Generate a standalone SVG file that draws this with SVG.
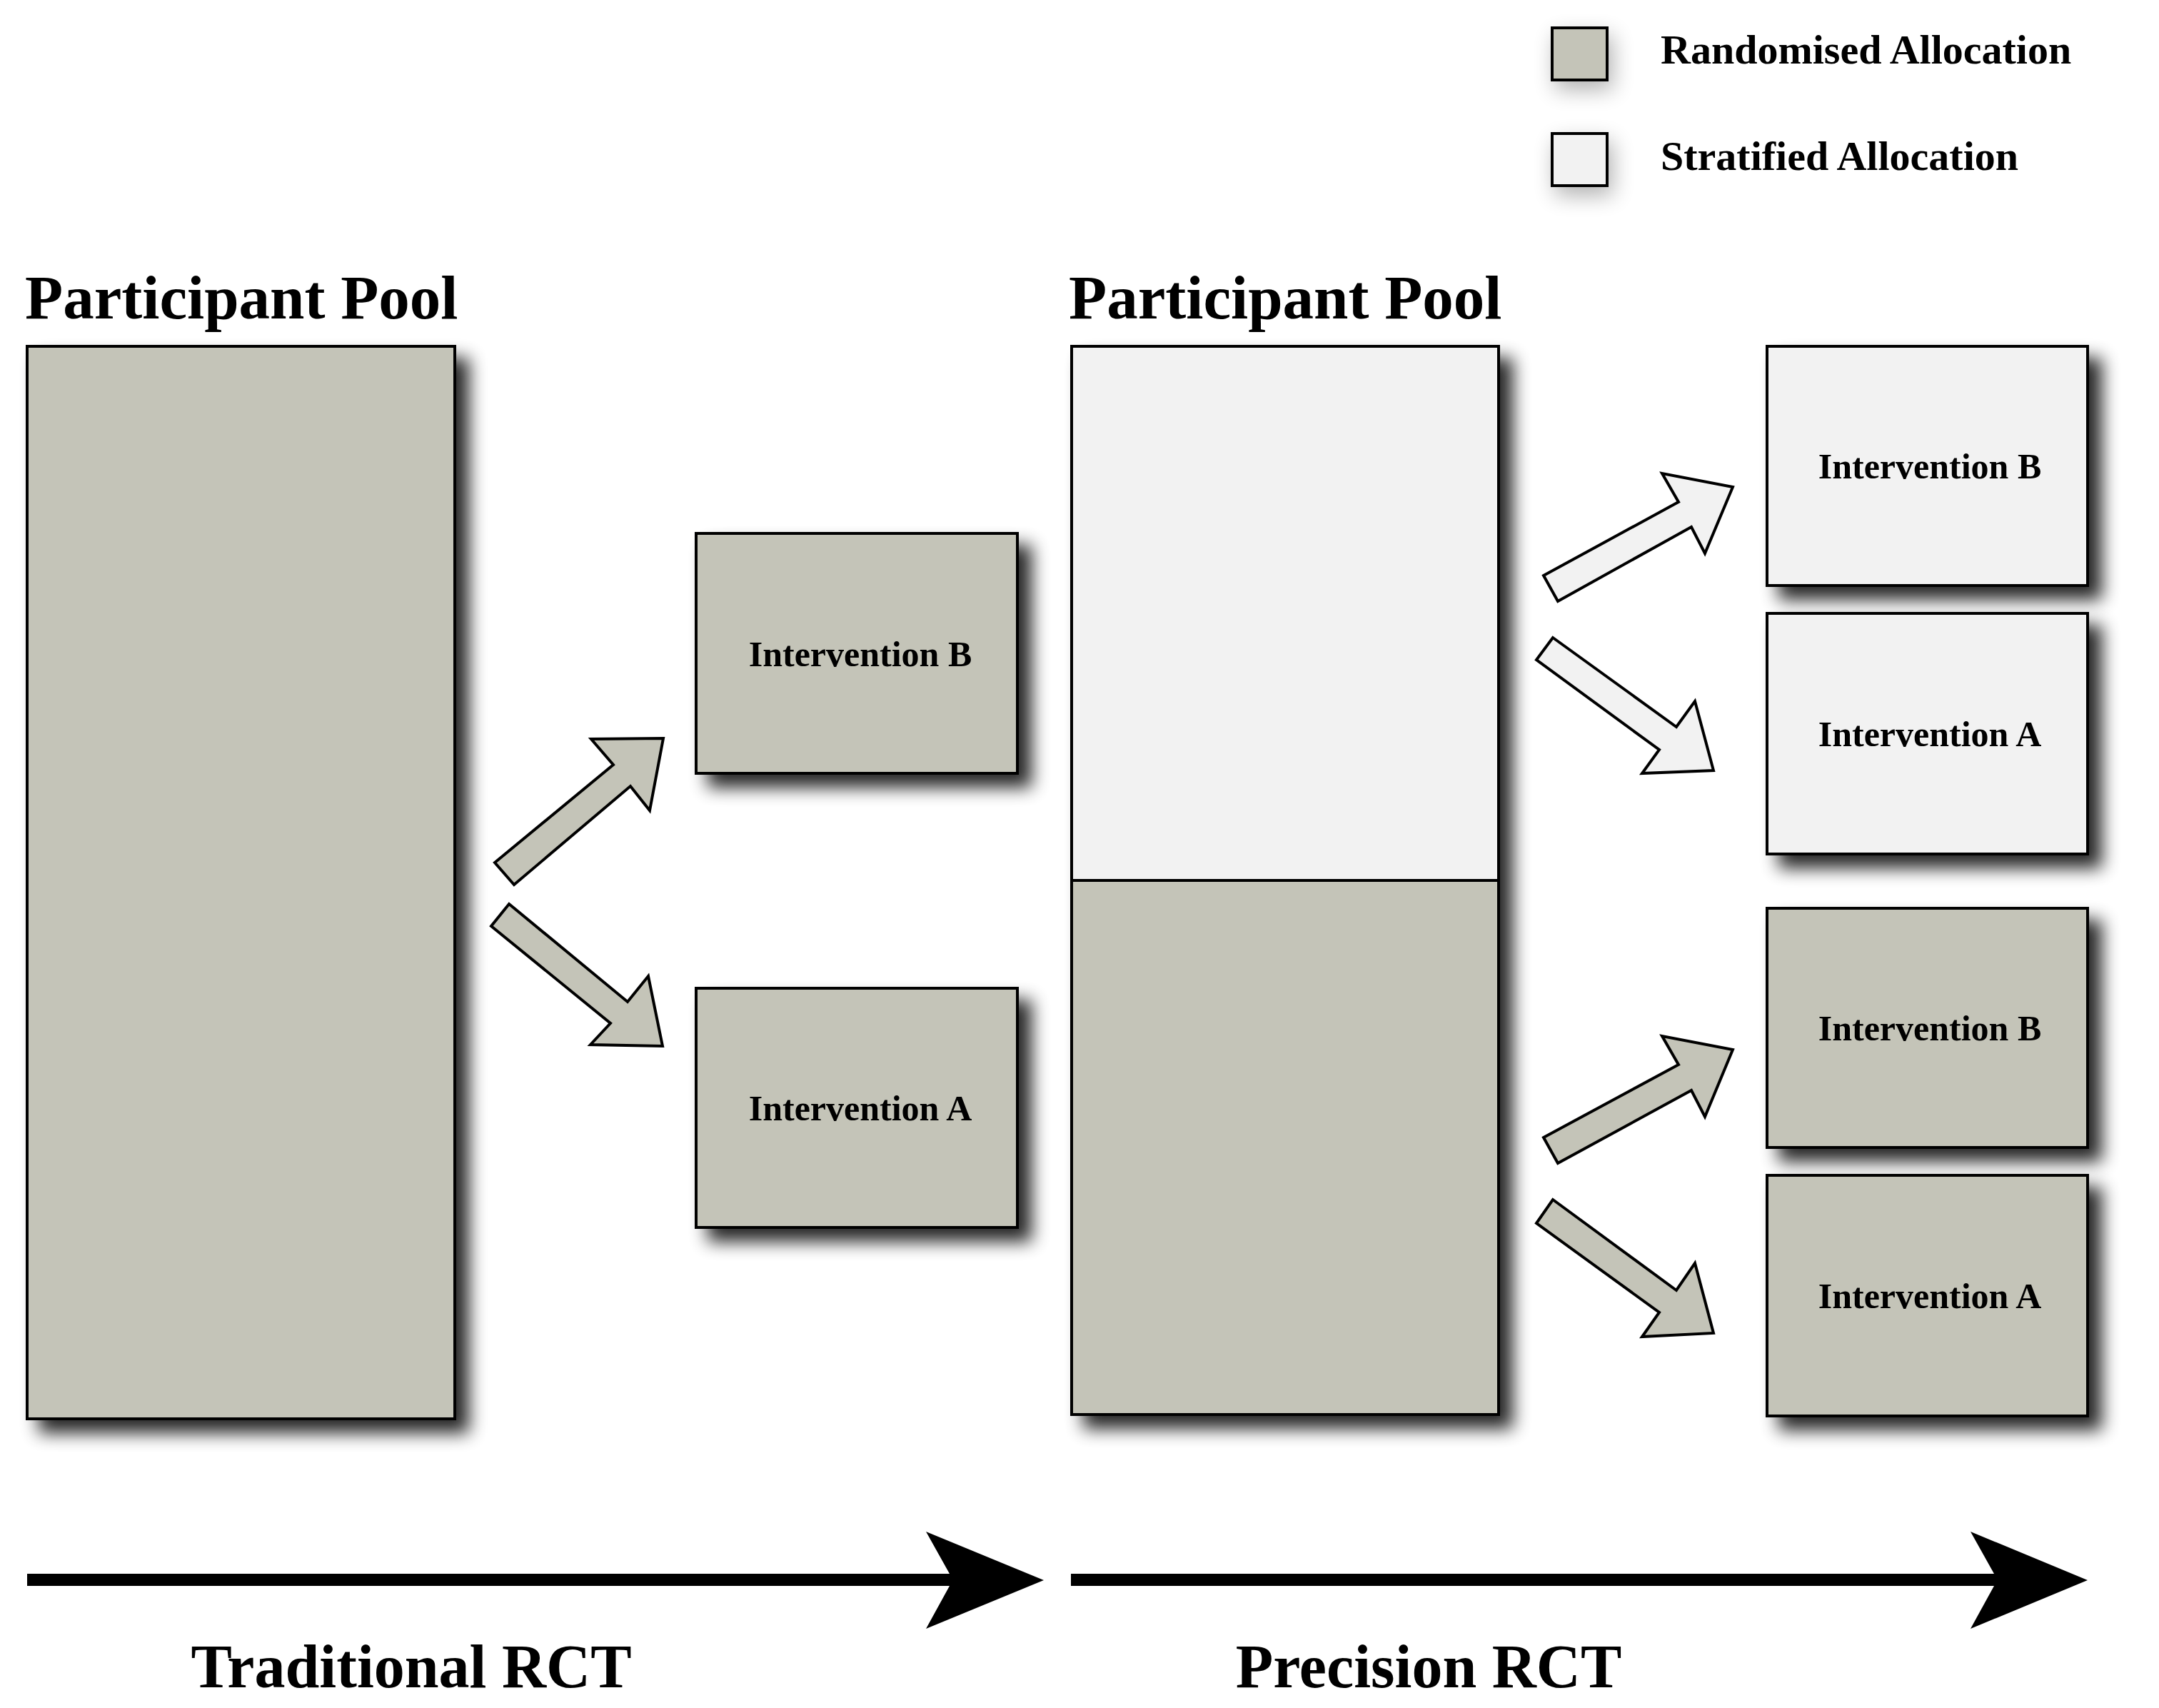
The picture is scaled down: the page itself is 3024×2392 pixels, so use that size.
<svg xmlns="http://www.w3.org/2000/svg" width="3024" height="2392" viewBox="0 0 3024 2392">
  <style>
    .gray { fill: #c4c4b8; stroke: #000; stroke-width: 4; }
    .light { fill: #f2f2f2; stroke: #000; stroke-width: 4; }
    .txt { font-family: "Liberation Serif", "Times New Roman", serif; font-weight: bold; fill: #000; }
    .title { font-size: 87px; }
    .legend { font-size: 58px; }
    .label { font-size: 50px; text-anchor: middle; }
    .bottom { font-size: 86px; text-anchor: middle; }
    .arrow { stroke: #000; stroke-width: 4; stroke-linejoin: miter; }
  </style>
  <defs>
    <filter id="shadow" x="-20%" y="-20%" width="150%" height="150%">
      <feGaussianBlur in="SourceAlpha" stdDeviation="12"/>
      <feOffset dx="18" dy="18" result="b"/>
      <feComponentTransfer in="b" result="s">
        <feFuncA type="linear" slope="0.85"/>
      </feComponentTransfer>
      <feMerge>
        <feMergeNode in="s"/>
        <feMergeNode in="SourceGraphic"/>
      </feMerge>
    </filter>
    <filter id="softshadow" x="-60%" y="-60%" width="250%" height="250%">
      <feGaussianBlur in="SourceAlpha" stdDeviation="15"/>
      <feOffset dx="6" dy="12" result="b"/>
      <feComponentTransfer in="b" result="s">
        <feFuncA type="linear" slope="0.3"/>
      </feComponentTransfer>
      <feMerge>
        <feMergeNode in="s"/>
        <feMergeNode in="SourceGraphic"/>
      </feMerge>
    </filter>
  </defs>
  <rect width="3024" height="2392" fill="#fff"/>

  <!-- Legend -->
  <g id="legend">
    <rect class="gray" x="2174" y="39" width="77" height="73" filter="url(#softshadow)"/>
    <text class="txt legend" x="2326" y="89">Randomised Allocation</text>
    <rect class="light" x="2174" y="187" width="77" height="73" filter="url(#softshadow)"/>
    <text class="txt legend" x="2326" y="238">Stratified Allocation</text>
  </g>

  <!-- Traditional RCT -->
  <g id="pool-traditional">
    <text class="txt title" x="35" y="446">Participant Pool</text>
    <rect class="gray" x="38" y="485" width="599" height="1502" filter="url(#shadow)"/>
  </g>
  <g id="trad-intervention-b">
    <rect class="gray" x="975" y="747" width="450" height="336" filter="url(#shadow)"/>
    <text class="txt label" x="1205" y="933">Intervention B</text>
  </g>
  <g id="trad-intervention-a">
    <rect class="gray" x="975" y="1384" width="450" height="335" filter="url(#shadow)"/>
    <text class="txt label" x="1205" y="1569">Intervention A</text>
  </g>

  <!-- Precision RCT -->
  <g id="pool-precision">
    <text class="txt title" x="1497" y="446">Participant Pool</text>
    <g filter="url(#shadow)">
      <rect class="light" x="1501" y="485" width="598" height="748"/>
      <rect class="gray" x="1501" y="1233" width="598" height="748"/>
    </g>
  </g>
  <g id="prec-strat-intervention-b">
    <rect class="light" x="2475" y="485" width="449" height="335" filter="url(#shadow)"/>
    <text class="txt label" x="2703" y="670">Intervention B</text>
  </g>
  <g id="prec-strat-intervention-a">
    <rect class="light" x="2475" y="859" width="449" height="337" filter="url(#shadow)"/>
    <text class="txt label" x="2703" y="1045">Intervention A</text>
  </g>
  <g id="prec-rand-intervention-b">
    <rect class="gray" x="2475" y="1272" width="449" height="335" filter="url(#shadow)"/>
    <text class="txt label" x="2703" y="1457">Intervention B</text>
  </g>
  <g id="prec-rand-intervention-a">
    <rect class="gray" x="2475" y="1646" width="449" height="337" filter="url(#shadow)"/>
    <text class="txt label" x="2703" y="1832">Intervention A</text>
  </g>

  <!-- Connectors -->
  <g id="connectors">
    <polygon class="arrow" fill="#c4c4b8" points="693,1208 859,1071 828,1035 929,1034 910,1135 883,1101 720,1239"/>
    <polygon class="arrow" fill="#c4c4b8" points="713,1266 879,1403 908,1367 928,1465 827,1463 855,1433 688,1297"/>
    <polygon class="arrow" fill="#f2f2f2" points="2162,806 2351,703 2328,663 2427,682 2388,775 2369,738 2182,842"/>
    <polygon class="arrow" fill="#f2f2f2" points="2175,893 2348,1018 2374,982 2400,1079 2300,1083 2324,1050 2152,924"/>
    <polygon class="arrow" fill="#c4c4b8" points="2162,1593 2351,1491 2328,1451 2427,1470 2388,1564 2369,1527 2182,1629"/>
    <polygon class="arrow" fill="#c4c4b8" points="2175,1680 2348,1807 2374,1769 2400,1867 2300,1872 2324,1838 2152,1713"/>
  </g>

  <!-- Timeline arrows -->
  <g id="timeline-traditional">
    <polygon fill="#000" points="38,2204 1330,2204 1297,2145 1462,2213 1297,2281 1330,2221 38,2221"/>
    <text class="txt bottom" x="576" y="2363">Traditional RCT</text>
  </g>
  <g id="timeline-precision">
    <polygon fill="#000" points="1500,2204 2793,2204 2760,2145 2924,2213 2760,2281 2793,2221 1500,2221"/>
    <text class="txt bottom" x="2001" y="2363">Precision RCT</text>
  </g>
</svg>
